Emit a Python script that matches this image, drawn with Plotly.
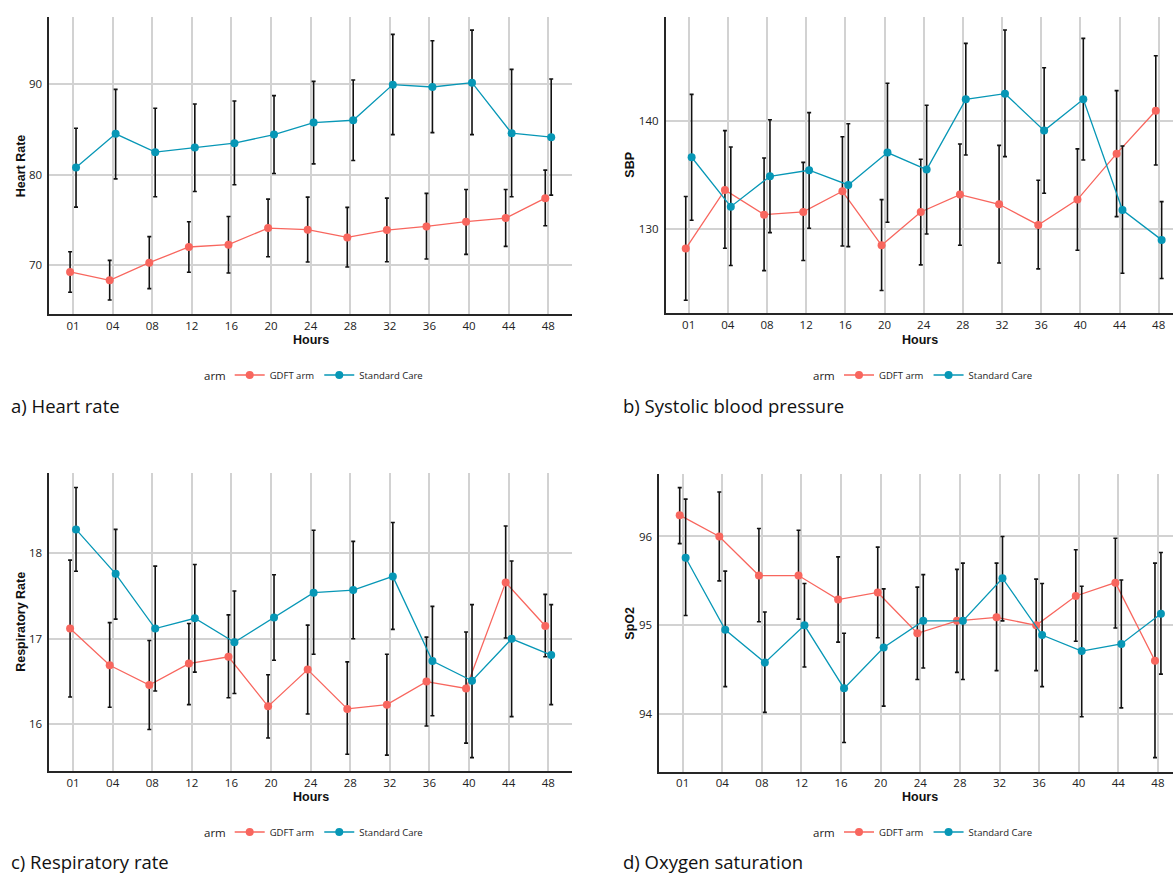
import plotly.graph_objects as go

# ---------------- data ----------------
HOURS = ["01", "04", "08", "12", "16", "20", "24", "28", "32", "36", "40", "44", "48"]
ARMS = ["GDFT arm", "Standard Care"]
LEGEND_TITLE = "arm"

# a) Heart rate
HR_GDFT = [69.27, 68.35, 70.29, 72.02, 72.28, 74.11, 73.93, 73.08, 73.89, 74.29, 74.81, 75.21, 77.41]
HR_GDFT_LO = [67.03, 66.18, 67.43, 69.23, 69.16, 70.95, 70.37, 69.82, 70.40, 70.70, 71.21, 72.09, 74.37]
HR_GDFT_HI = [71.50, 70.55, 73.16, 74.81, 75.39, 77.30, 77.52, 76.39, 77.41, 77.93, 78.37, 78.37, 80.50]
HR_SC = [80.79, 84.50, 82.48, 82.99, 83.47, 84.42, 85.74, 86.00, 89.93, 89.67, 90.15, 84.57, 84.13]
HR_SC_LO = [76.42, 79.54, 77.56, 78.15, 78.88, 80.13, 81.19, 81.56, 84.42, 84.64, 84.42, 77.56, 77.74]
HR_SC_HI = [85.12, 89.41, 87.32, 87.80, 88.13, 88.72, 90.29, 90.44, 95.47, 94.77, 95.94, 91.61, 90.55]

# b) Systolic blood pressure
SBP_GDFT = [128.22, 133.63, 131.35, 131.60, 133.51, 128.52, 131.60, 133.20, 132.31, 130.40, 132.74, 136.98, 140.95]
SBP_GDFT_LO = [123.45, 128.25, 126.18, 127.11, 128.46, 124.34, 126.71, 128.52, 126.89, 126.34, 128.06, 131.17, 135.94]
SBP_GDFT_HI = [133.02, 139.11, 136.58, 136.18, 138.55, 132.74, 136.46, 137.88, 137.75, 134.52, 137.42, 142.80, 146.03]
SBP_SC = [136.65, 132.09, 134.89, 135.45, 134.09, 137.08, 135.51, 142.00, 142.52, 139.11, 142.00, 131.78, 129.02]
SBP_SC_LO = [130.83, 126.65, 129.69, 130.09, 128.40, 130.65, 129.57, 136.86, 136.71, 133.32, 136.40, 125.94, 125.45]
SBP_SC_HI = [142.46, 137.60, 140.12, 140.77, 139.75, 143.48, 141.45, 147.17, 148.40, 144.92, 147.63, 137.69, 132.55]

# c) Respiratory rate
RR_GDFT = [17.12, 16.69, 16.46, 16.71, 16.79, 16.21, 16.64, 16.18, 16.23, 16.50, 16.42, 17.66, 17.15]
RR_GDFT_LO = [16.32, 16.20, 15.94, 16.23, 16.31, 15.84, 16.12, 15.65, 15.64, 15.98, 15.78, 17.01, 16.79]
RR_GDFT_HI = [17.92, 17.19, 16.98, 17.18, 17.28, 16.58, 17.16, 16.73, 16.82, 17.02, 17.08, 18.32, 17.52]
RR_SC = [18.28, 17.76, 17.12, 17.24, 16.96, 17.25, 17.54, 17.57, 17.73, 16.74, 16.51, 17.00, 16.81]
RR_SC_LO = [17.79, 17.23, 16.39, 16.61, 16.36, 16.75, 16.82, 17.00, 17.11, 16.10, 15.61, 16.09, 16.23]
RR_SC_HI = [18.77, 18.28, 17.85, 17.87, 17.56, 17.75, 18.27, 18.14, 18.36, 17.38, 17.40, 17.91, 17.40]

# d) Oxygen saturation
SPO2_GDFT = [96.24, 96.00, 95.56, 95.56, 95.29, 95.37, 94.91, 95.05, 95.09, 95.00, 95.33, 95.48, 94.60]
SPO2_GDFT_LO = [95.92, 95.50, 95.04, 95.07, 94.81, 94.86, 94.39, 94.47, 94.49, 94.49, 94.82, 94.97, 93.51]
SPO2_GDFT_HI = [96.55, 96.50, 96.09, 96.07, 95.77, 95.88, 95.43, 95.63, 95.70, 95.52, 95.85, 95.98, 95.70]
SPO2_SC = [95.76, 94.95, 94.58, 95.00, 94.29, 94.75, 95.05, 95.05, 95.53, 94.89, 94.71, 94.79, 95.13]
SPO2_SC_LO = [95.11, 94.31, 94.02, 94.53, 93.68, 94.09, 94.52, 94.39, 95.05, 94.31, 93.97, 94.07, 94.45]
SPO2_SC_HI = [96.42, 95.61, 95.15, 95.47, 94.91, 95.41, 95.57, 95.70, 96.00, 95.47, 95.44, 95.51, 95.82]

Y_TICKS_HR = [70, 80, 90]
Y_TICKS_SBP = [130, 140]
Y_TICKS_RR = [16, 17, 18]
Y_TICKS_SPO2 = [94, 95, 96]

# ---------------- style ----------------
W, H = 1173, 874
COLORS = ["#F8665E", "#0797B6"]
DODGE = [-0.075, 0.075]
GRID = "#D2D2D2"
AXIS = "#262626"
TICKFONT = dict(family="Open Sans", size=11.5, color="#222222")
BOLD = dict(family="Liberation Sans", size=12.5, color="#111111")


def px_x(v):
    return v / W


def px_y(v):
    return 1 - v / H


panels = [
    dict(mean=[HR_GDFT, HR_SC], lo=[HR_GDFT_LO, HR_SC_LO], hi=[HR_GDFT_HI, HR_SC_HI],
         ticks=Y_TICKS_HR, yrange=[64.63, 97.39], xdom=(49.3, 572.0), ydom=(17.0, 314.0),
         xrange=[-0.6, 12.6], ytitle="Heart Rate", ytx=20.7, caption="a) Heart rate",
         capx=9.3, capy=405, leg_y=375, hours_y=339.5, cx=310.7),
    dict(mean=[SBP_GDFT, SBP_SC], lo=[SBP_GDFT_LO, SBP_SC_LO], hi=[SBP_GDFT_HI, SBP_SC_HI],
         ticks=Y_TICKS_SBP, yrange=[122.24, 149.63], xdom=(665.7, 1173.0), ydom=(16.7, 313.3),
         xrange=[-0.587, 12.365], ytitle="SBP", ytx=629.7, caption="b) Systolic blood pressure",
         capx=620.5, capy=405, leg_y=375, hours_y=339.5, cx=920.0),
    dict(mean=[RR_GDFT, RR_SC], lo=[RR_GDFT_LO, RR_SC_LO], hi=[RR_GDFT_HI, RR_SC_HI],
         ticks=Y_TICKS_RR, yrange=[15.454, 18.936], xdom=(49.3, 572.0), ydom=(473.3, 771.0),
         xrange=[-0.6, 12.6], ytitle="Respiratory Rate", ytx=20.7, caption="c) Respiratory rate",
         capx=9.3, capy=861.7, leg_y=832, hours_y=796.7, cx=310.7),
    dict(mean=[SPO2_GDFT, SPO2_SC], lo=[SPO2_GDFT_LO, SPO2_SC_LO], hi=[SPO2_GDFT_HI, SPO2_SC_HI],
         ticks=Y_TICKS_SPO2, yrange=[93.354, 96.70], xdom=(659.3, 1173.0), ydom=(474.3, 771.5),
         xrange=[-0.59, 12.38], ytitle="SpO2", ytx=629.8, caption="d) Oxygen saturation",
         capx=620.5, capy=861.7, leg_y=832, hours_y=796.7, cx=920.0),
]

fig = go.Figure()
annotations = []
layout = dict(width=W, height=H, autosize=False, margin=dict(l=0, r=0, t=0, b=0),
              paper_bgcolor="white", plot_bgcolor="white", showlegend=True)

for p_i, p in enumerate(panels):
    n = p_i + 1
    xa = "x" if n == 1 else f"x{n}"
    ya = "y" if n == 1 else f"y{n}"
    leg = "legend" if n == 1 else f"legend{n}"
    for a_i, arm in enumerate(ARMS):
        m = p["mean"][a_i]
        xs = [i + DODGE[a_i] for i in range(len(HOURS))]
        fig.add_trace(go.Scatter(
            x=xs, y=m, mode="lines+markers", name=arm,
            xaxis=xa, yaxis=ya, legend=leg,
            line=dict(color=COLORS[a_i], width=1.3),
            marker=dict(color=COLORS[a_i], size=8),
            error_y=dict(type="data", symmetric=False,
                         array=[h - v for h, v in zip(p["hi"][a_i], m)],
                         arrayminus=[v - l for v, l in zip(m, p["lo"][a_i])],
                         color="#111111", thickness=1.6, width=2),
            hoverinfo="skip",
        ))
    xkey = "xaxis" if n == 1 else f"xaxis{n}"
    ykey = "yaxis" if n == 1 else f"yaxis{n}"
    layout[xkey] = dict(
        domain=[px_x(p["xdom"][0]), px_x(p["xdom"][1])], range=p["xrange"],
        anchor=ya, tickmode="array", tickvals=list(range(len(HOURS))), ticktext=HOURS,
        showgrid=True, gridcolor=GRID, gridwidth=1.5, zeroline=False,
        showline=True, linecolor=AXIS, linewidth=1.6, ticks="",
        tickfont=TICKFONT, fixedrange=True,
    )
    layout[ykey] = dict(
        domain=[px_y(p["ydom"][1]), px_y(p["ydom"][0])], range=p["yrange"],
        anchor=xa, tickmode="array", tickvals=p["ticks"],
        showgrid=True, gridcolor=GRID, gridwidth=1.5, zeroline=False,
        showline=True, linecolor=AXIS, linewidth=1.6, ticks="",
        tickfont=TICKFONT, fixedrange=True, ticklabelstandoff=3,
    )
    # legend items (title drawn as separate text so it is vertically centred)
    layout[leg] = dict(
        orientation="h", x=px_x(p["cx"] - 81), xanchor="left", y=px_y(p["leg_y"]), yanchor="middle",
        font=dict(family="Open Sans", size=9.5, color="#222222"),
        bgcolor="rgba(0,0,0,0)", itemwidth=30, tracegroupgap=0,
    )
    annotations.append(dict(text=LEGEND_TITLE, x=px_x(p["cx"] - 83), y=px_y(p["leg_y"]),
                            xref="paper", yref="paper", xanchor="right", yanchor="middle",
                            showarrow=False,
                            font=dict(family="Open Sans", size=11.5, color="#222222")))
    # axis titles and captions
    annotations.append(dict(text="<b>Hours</b>", x=px_x(p["cx"]), y=px_y(p["hours_y"]),
                            xref="paper", yref="paper", xanchor="center", yanchor="middle",
                            showarrow=False, font=BOLD))
    annotations.append(dict(text=f"<b>{p['ytitle']}</b>", x=px_x(p["ytx"]),
                            y=px_y((p["ydom"][0] + p["ydom"][1]) / 2),
                            xref="paper", yref="paper", xanchor="center", yanchor="middle",
                            textangle=-90, showarrow=False, font=BOLD))
    annotations.append(dict(text=p["caption"], x=px_x(p["capx"]), y=px_y(p["capy"]),
                            xref="paper", yref="paper", xanchor="left", yanchor="middle",
                            showarrow=False,
                            font=dict(family="Open Sans", size=18.5, color="#111111")))

layout["annotations"] = annotations
fig.update_layout(**layout)
fig.write_html("out.html")
